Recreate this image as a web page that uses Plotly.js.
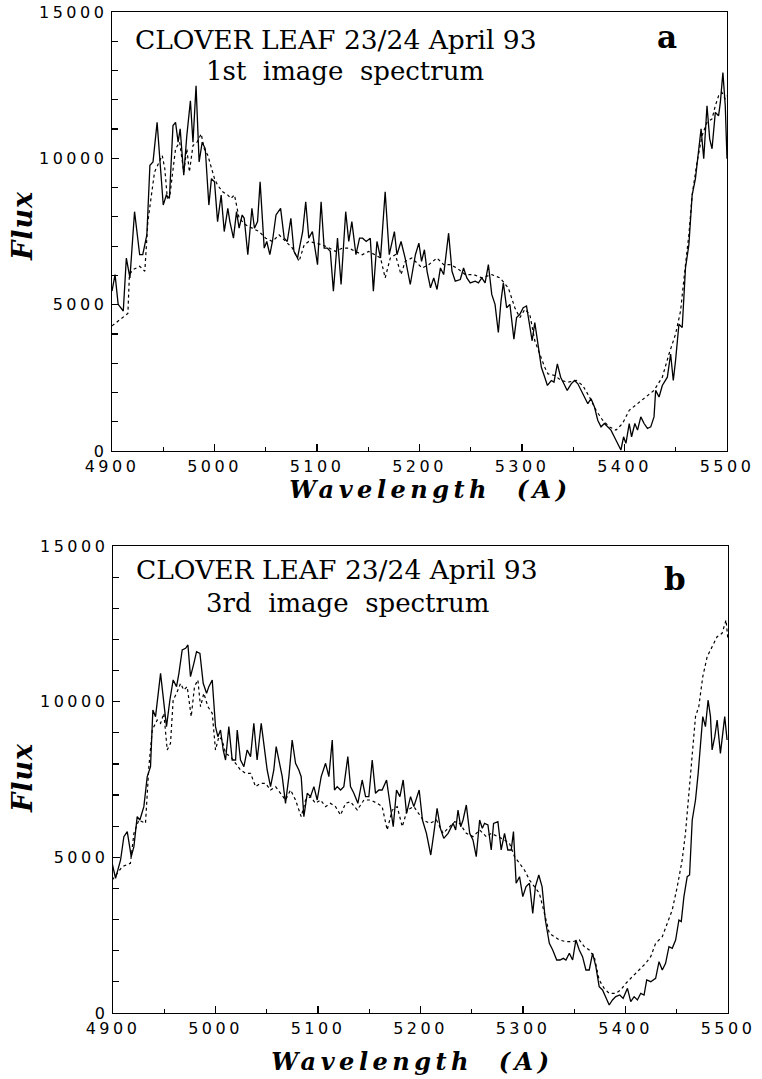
<!DOCTYPE html>
<html><head><meta charset="utf-8">
<script src="https://cdn.plot.ly/plotly-3.0.1.min.js"></script>
<style>
html,body{margin:0;padding:0;background:#fff;}
#chart{width:762px;height:1079px;}
g.xtick text, g.ytick text, g.x2tick text, g.y2tick text{letter-spacing:3.5px !important;}
g.annotation[data-index="6"] text, g.annotation[data-index="7"] text{letter-spacing:4.5px !important;}
g.annotation[data-index="8"] text, g.annotation[data-index="9"] text{letter-spacing:1px !important;}
</style></head><body><div id="chart"></div><script>
// ---- data (wavelength in A, flux) ----
const obsA = [[4900,5463],[4903,6028],[4906,5010],[4911,4784],[4914,6594],[4917.5,5915],[4922,8177],[4927,6707],[4930,6707],[4934,7385],
[4937,9761],[4940,9874],[4944,11231],[4946.5,10100],[4950,8403],[4953,8743],[4956,8630],[4959.5,11118],[4962,11231],[4964.5,10552],
[4966.5,11005],[4970,9421],[4973,10778],[4976.5,11966],[4979,10552],[4982,12475],[4985,9874],[4988,10552],[4991,10326],[4994.5,8403],
[4997,9308],[5000,9195],[5003,7838],[5006.5,8743],[5009.5,7499],[5013,8290],[5015,7838],[5018.5,7272],[5021.5,8177],[5024,7612],
[5027,8064],[5029,7951],[5032.5,6707],[5036.5,8290],[5039,7612],[5042,7838],[5044.5,9195],[5048.5,6933],[5051,7159],[5054,6707],
[5056.5,7159],[5060,8064],[5064.5,8290],[5068,7272],[5071,7159],[5074.5,7951],[5077.5,6820],[5081,6594],[5086,7499],[5089,8516],
[5092,7272],[5095.5,7499],[5100.5,6368],[5104,8516],[5107,6933],[5110,6933],[5113,6820],[5116,5463],[5120,7272],[5123.5,5689],
[5128,8177],[5131,7159],[5134,7838],[5138,6707],[5141.5,7272],[5144.5,7272],[5148,7159],[5152,7272],[5155,5463],[5158.5,7159],
[5162,6594],[5166.5,8856],[5170.5,6707],[5175.5,7499],[5178,6707],[5182,7159],[5186,6594],[5191,5689],[5196,6707],
[5199.4,7103],[5202,6480],[5204.8,6876],[5207.4,6141],[5210.7,5576],[5213.9,5915],[5217.1,5519],[5220.4,6254],[5223.6,6028],[5226.2,6707],
[5228.4,7442],[5231.7,6141],[5234.9,5802],[5239.8,5859],[5243,6254],[5246.2,5915],[5249.5,5745],[5254.3,5802],[5257.5,5745],[5260.8,5915],
[5264,5745],[5267.2,6368],[5270.5,5350],[5273.7,5010],[5276.9,4049],[5279.5,5123],[5281.8,5745],[5285,4897],[5288.2,5010],[5292.1,3823],
[5294.7,4558],[5297.9,4671],[5301.2,4897],[5304.4,4954],[5307.6,4219],[5309.9,3766],[5312.5,4388],[5315.7,3540],[5318.9,2861],[5322.2,2522],
[5324.8,2239],[5328.6,2409],[5331.2,2352],[5334.5,2975],[5337.7,2522],[5340.9,2296],[5344.1,2070],[5348,2296],[5351.3,2409],[5354.5,2296],
[5357.7,2070],[5361.6,1844],[5364.2,1617],[5367.4,1787],[5370.7,1504],[5373.9,1052],[5377.1,826],[5380.4,939],[5383.6,826],[5386.8,713],
[5390,486],[5393.3,260],[5396.5,34],[5399.1,486],[5401.4,260],[5404.6,939],[5406.9,486],[5410.1,939],[5412.7,713],[5415.9,1165],
[5419.1,939],[5422.4,769],[5425.6,826],[5428.8,1165],[5430.4,2070],[5433.7,1844],[5436.9,2239],[5441.8,2522],[5445,3314],[5447.6,2409],
[5449.8,3088],[5453.1,4332],[5456.3,4219],[5459.5,6254],[5462.8,7046],[5466,8743],[5469.2,9308],[5472.5,10326],[5474.7,11005],[5477.3,9987],
[5480.5,11796],[5483.1,10665],[5485.4,10326],[5488.6,11570],[5491.8,11457],[5493.5,11909],[5496,12927],[5498.3,11796],[5500,9987]];

const modelA = [[4900,4275],[4908,4501],[4913,4650],[4915.5,4700],[4917,6028],[4920.5,6198],[4927,6311],[4932,6141],[4935,7838],[4938.5,8743],
[4941.5,9534],[4946,9874],[4949,10100],[4951.5,9647],[4954,8630],[4956.5,8743],[4959.5,9534],[4962,10326],[4966,10552],[4970,9534],
[4973,10326],[4975.5,9534],[4979,10439],[4983,10552],[4987,10835],[4990,10326],[4993.5,10100],[4996.5,9761],[5000,9308],[5003,9082],
[5008,8856],[5013,8743],[5016,8630],[5019.5,8750],[5024,7951],[5030.5,7725],[5037,7612],[5043.5,7499],[5050,7272],[5056.5,7159],
[5063,7385],[5069.5,7159],[5076,6933],[5082.5,6480],[5087.5,7046],[5092,7159],[5099,7103],[5105,7046],[5112,6933],[5118,6820],
[5125,6933],[5131,6933],[5137.5,6820],[5144,6707],[5150.5,6820],[5157,6707],[5162,6594],[5166.5,5915],[5171.5,6594],[5176.5,6707],
[5182,6028],[5186,6480],[5192.5,6594],
[5202.6,6254],[5209,6368],[5217,6594],[5223.6,6368],[5230,6368],[5236.5,6254],[5244.6,6028],[5252.7,6028],[5260.8,5915],[5270.5,6028],
[5278.5,5915],[5286.6,5576],[5293,4897],[5297.9,4558],[5302.8,4841],[5307.6,4671],[5312.5,3766],[5317.3,3314],[5322.2,2861],[5325.4,2635],
[5331.9,2579],[5338.3,2409],[5344.8,2352],[5352.9,2409],[5359.3,2239],[5365.8,1844],[5372.3,1391],[5378.7,1052],[5385.2,826],[5391.7,713],
[5398.1,939],[5404.6,1391],[5412.7,1617],[5420.8,1844],[5428.8,2070],[5436.9,2522],[5443.4,3314],[5449.8,3992],[5454.7,4784],[5459.5,6368],
[5462.8,7385],[5466,8743],[5470.8,9874],[5475.7,10778],[5480.5,11231],[5485.4,11344],[5488.6,11796],[5491.8,12135],[5495.1,12248],[5498.3,12022],
[5500,12135]];

const obsB = [[4899.2,4807],[4902.5,4326],[4907.4,4915],[4910.6,5664],[4913.9,5825],[4917.8,5022],[4920.4,5343],[4923.6,6306],[4926.2,6199],[4930.1,6628],
[4933.4,7591],[4936.6,7912],[4938.9,9733],[4941.5,9519],[4946.4,10910],[4949.6,9840],[4952.2,9197],[4955.5,10054],[4958.7,10697],[4962,10482],
[4964.3,10910],[4967.5,11660],[4970.8,11714],[4973.1,11820],[4975.6,10803],[4978.9,11232],[4981.5,11607],[4984.8,11553],[4988,10589],[4991.3,10268],
[4993.5,10482],[4996.8,10697],[5000,9197],[5002.3,8876],[5004.9,9090],[5007.5,8448],[5009.8,8127],[5013,9197],[5016.3,8127],[5019.6,8127],
[5021.2,9090],[5024.4,8127],[5027.7,7912],[5030.9,8448],[5034.2,8234],[5037.4,9305],[5040.6,8127],[5044.6,9305],[5047.8,8555],[5050.4,7805],
[5053.7,7270],[5056.9,7805],[5059.2,8555],[5061.8,8127],[5065.1,7591],[5068.3,6735],[5071.6,7591],[5074.8,8769],[5078.1,8020],[5081.3,7805],
[5083.6,7591],[5086.2,6306],[5089.5,7056],[5092.7,6949],[5096,7270],[5099.2,6842],[5103.1,7591],[5107.4,8020],[5110.6,7591],[5113.9,8769],
[5116.1,7163],[5118.7,7270],[5122,7163],[5125.2,7270],[5129.1,8234],[5131.7,7270],[5135,7056],[5138.9,6735],[5143.1,7484],[5146.4,6949],
[5149.6,6949],[5152.9,8127],[5156.1,7056],[5159.4,7163],[5162.6,7163],[5166.9,7484],[5170.1,6735],[5173.4,5985],[5176.6,7163],[5179.9,6949],
[5183.1,7484],[5186.4,6413],[5190.3,6949],[5193.5,6628],
[5198.7,7163],[5201.9,6199],[5205.8,5771],[5210,5075],[5213,5771],[5216.2,6574],[5219.4,5932],[5222.7,5610],[5226.9,5771],[5231.8,6092],
[5234.3,5878],[5236.6,6521],[5239.2,5985],[5241.5,6199],[5244.7,6681],[5248,5771],[5251.2,5557],[5254.4,5022],[5257.7,6199],[5260.3,5932],
[5262.5,6092],[5265.8,6039],[5269,5236],[5271.3,6092],[5275.5,6146],[5278.7,5236],[5282,5771],[5285.2,5236],[5288.5,5236],[5290.7,5825],
[5293.3,4165],[5296.6,4379],[5299.8,3737],[5303,4058],[5306.3,4165],[5309.5,3201],[5312.1,4058],[5315.4,4433],[5318.6,4058],[5321.8,2987],
[5325.7,2238],[5329,2024],[5332.9,1702],[5336.1,1702],[5339.3,1756],[5341.9,1702],[5345.2,1917],[5348.4,1702],[5351.6,2345],[5354.9,2024],
[5358.1,1810],[5361.4,1381],[5364.6,1381],[5367.9,1917],[5371.1,1488],[5374.3,846],[5377.6,739],[5380.8,525],[5384.1,257],[5387.3,418],
[5390.5,525],[5394.4,578],[5397.7,471],[5401.9,792],[5405.1,364],[5408.4,525],[5411.6,418],[5414.9,632],[5418.1,578],[5420.7,1060],
[5424.6,1006],[5429.4,1114],[5432.7,1649],[5435.9,1381],[5439.1,1595],[5442.4,2131],[5445.6,2077],[5448.9,2345],[5452.1,2987],[5454.4,2934],
[5457,3737],[5460.2,4379],[5462.5,4433],[5465.1,6199],[5468.3,6842],[5470.9,7698],[5473.2,8769],[5475.4,9519],[5478,9197],[5480.6,10054],
[5482.9,9519],[5484.5,8448],[5487.1,8876],[5489.4,9412],[5492.6,8341],[5494.9,9090],[5496.8,9519],[5499.1,8769]];

const modelB = [[4899.2,4272],[4904,4486],[4909,4700],[4917,4807],[4920.4,5771],[4925.2,6199],[4931.7,6092],[4935,7912],[4938.3,9090],[4943.1,9412],
[4946.4,9305],[4949.6,9626],[4952.9,8448],[4956.1,8662],[4958.7,10054],[4962,10268],[4965.9,10589],[4969.1,10375],[4972.4,10482],[4976.3,9519],
[4979.5,10482],[4982.8,10697],[4985.4,9840],[4988.6,10268],[4992.6,9840],[4996.8,9626],[5000,8448],[5003.3,8876],[5006.5,8769],[5009.8,8341],
[5014.7,8234],[5019.6,8020],[5024.4,7805],[5029.3,7698],[5034.2,7698],[5039.1,7270],[5044,7377],[5048.8,7377],[5053.7,7163],[5058.6,7270],
[5063.5,7056],[5068.3,6842],[5073.2,7163],[5078.1,6842],[5083.6,6306],[5087.9,6842],[5092.7,6949],[5097.6,6735],[5102.5,6842],[5107.4,6628],
[5112.2,6735],[5117.1,6628],[5122,6360],[5126.9,6735],[5131.7,6788],[5138.3,6520],[5144.8,6842],[5151.3,6842],[5157.8,6735],[5162.6,6628],
[5167.5,5878],[5172.4,6520],[5177.3,6628],[5182.2,5985],[5187,6520],[5193.5,6628],
[5202.6,6199],[5209.1,6092],[5215.6,6199],[5222,5771],[5228.5,5985],[5233.4,6146],[5238.2,6092],[5244.7,5771],[5251.2,5664],[5257.7,5878],
[5264.2,5664],[5269,5771],[5275.5,5664],[5282,5557],[5286.8,5450],[5291.7,5022],[5296.6,4807],[5301.4,4593],[5306.3,4272],[5311.1,4058],
[5316,3844],[5320.9,3201],[5325.7,2559],[5330.6,2452],[5335.5,2345],[5342,2291],[5348.4,2291],[5354.9,2345],[5359.8,2131],[5364.6,2024],
[5369.5,1810],[5374.3,1060],[5379.2,792],[5384.1,632],[5390.5,632],[5395.4,739],[5400.3,953],[5406.7,1167],[5413.2,1381],[5419.7,1595],
[5424.6,1810],[5429.4,2238],[5435.9,2452],[5440.8,2880],[5445.6,3308],[5450.5,4058],[5455.3,4915],[5458.5,5771],[5461.8,7056],[5465.1,8555],
[5468.3,9519],[5471.5,9840],[5475.4,10803],[5479.7,11446],[5484.5,11767],[5489.4,12088],[5494.2,12195],[5498.1,12623],[5500,11981]];

const titleLine1 = 'CLOVER LEAF 23/24 April 93';
const subtitleA = '1st\u00A0\u00A0image\u00A0\u00A0spectrum';
const subtitleB = '3rd\u00A0\u00A0image\u00A0\u00A0spectrum';
const xTitle = 'Wavelength\u00A0\u00A0(A)';
const yTitle = 'Flux';

// ---- figure ----
const W = 762, H = 1079;
const fx = v => v / W, fy = v => 1 - v / H;
const xs = d => d.map(p => p[0]), ys = d => d.map(p => p[1]);

const solid = {color:'#000', width:1.3};
const dashed = {color:'#000', width:1.2, dash:'3px,3px'};
const traces = [
  {x:xs(modelA), y:ys(modelA), xaxis:'x', yaxis:'y', mode:'lines', line:dashed, hoverinfo:'skip'},
  {x:xs(obsA), y:ys(obsA), xaxis:'x', yaxis:'y', mode:'lines', line:solid, hoverinfo:'skip'},
  {x:xs(modelB), y:ys(modelB), xaxis:'x2', yaxis:'y2', mode:'lines', line:dashed, hoverinfo:'skip'},
  {x:xs(obsB), y:ys(obsB), xaxis:'x2', yaxis:'y2', mode:'lines', line:solid, hoverinfo:'skip'}
];

const tickFont = {family:'DejaVu Sans', size:16, color:'#000'};
function xAxis(domain, anchor){
  return {domain, anchor, range:[4900,5500], tick0:4900, dtick:100, tickformat:'d', ticks:'inside', ticklen:7, tickwidth:1.2, tickcolor:'#000',
    minor:{dtick:50, ticks:'inside', ticklen:4, tickwidth:1.2, tickcolor:'#000'},
    showline:true, mirror:true, linecolor:'#000', linewidth:1.4, showgrid:false, zeroline:false,
    tickfont:tickFont, fixedrange:true, automargin:false};
}
function yAxis(domain, anchor){
  return {domain, anchor, range:[0,15000], tick0:0, dtick:5000, tickformat:'d', ticks:'inside', ticklen:7, tickwidth:1.2, tickcolor:'#000',
    minor:{dtick:1000, ticks:'inside', ticklen:6, tickwidth:1.2, tickcolor:'#000'},
    showline:true, mirror:true, linecolor:'#000', linewidth:1.4, showgrid:false, zeroline:false,
    tickfont:tickFont, fixedrange:true, automargin:false};
}
const serif = {family:'DejaVu Serif', size:26, color:'#000'};
const labFont = {family:'DejaVu Serif', size:24, color:'#000', style:'italic', weight:'bold'};
const fluxFont = {family:'DejaVu Serif', size:27, color:'#000', style:'italic', weight:'bold'};
const letterFont = {family:'DejaVu Serif', size:31, color:'#000', weight:'bold'};
function ann(text, x, y, font, extra){
  return Object.assign({text, x:fx(x), y:fy(y), xref:'paper', yref:'paper', xanchor:'center', yanchor:'middle', showarrow:false, font}, extra||{});
}
const layout = {
  width:W, height:H, margin:{l:0,r:0,t:0,b:0}, paper_bgcolor:'#fff', plot_bgcolor:'#fff', showlegend:false,
  xaxis: xAxis([fx(112), fx(727)], 'y'),
  yaxis: yAxis([fy(451), fy(12)], 'x'),
  xaxis2: xAxis([fx(113), fx(728)], 'y2'),
  yaxis2: yAxis([fy(1013), fy(546)], 'x2'),
  annotations:[
    ann(titleLine1, 336, 39, Object.assign({}, serif, {size:26.5})),
    ann(subtitleA, 345, 71, serif),
    ann('a', 667, 37, letterFont),
    ann(titleLine1, 336.5, 569, Object.assign({}, serif, {size:26.5})),
    ann(subtitleB, 347.5, 603, serif),
    ann('b', 674.5, 579, letterFont),
    ann(xTitle, 431, 489, labFont),
    ann(xTitle, 412, 1061, labFont),
    ann(yTitle, 22, 226, fluxFont, {textangle:-90}),
    ann(yTitle, 22, 778, fluxFont, {textangle:-90})
  ]
};
Plotly.newPlot('chart', traces, layout, {displayModeBar:false, staticPlot:true});
</script></body></html>
